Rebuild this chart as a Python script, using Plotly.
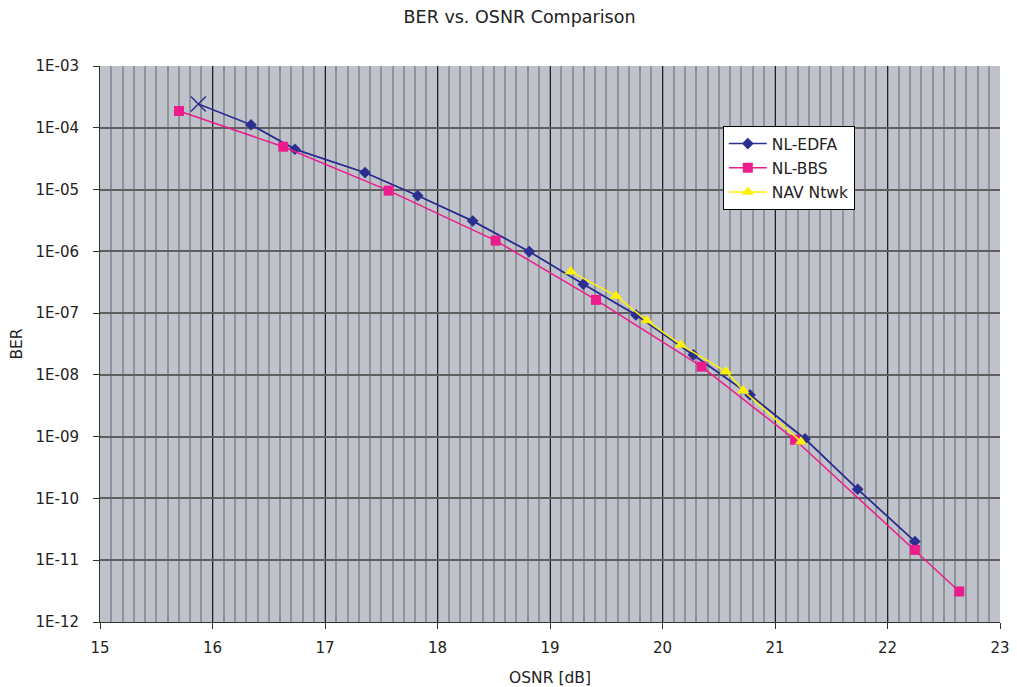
import plotly.graph_objects as go

# ---- data ----
edfa_osnr = [15.874, 16.342, 16.733, 17.356, 17.824, 18.313, 18.816, 19.296,
             19.764, 20.274, 20.778, 21.267, 21.735, 22.244]
edfa_ber = [2.43e-4, 1.12e-4, 4.49e-5, 1.88e-5, 7.96e-6, 3.10e-6, 9.9e-7, 2.94e-7,
            9.35e-8, 2.11e-8, 4.74e-9, 9.2e-10, 1.41e-10, 2.01e-11]

bbs_osnr = [15.702, 16.629, 17.566, 18.517, 19.409, 20.348, 21.178, 22.244, 22.638]
bbs_ber = [1.87e-4, 4.94e-5, 9.6e-6, 1.49e-6, 1.64e-7, 1.36e-8, 8.9e-10, 1.47e-11, 3.12e-12]

nav_osnr = [19.184, 19.587, 19.860, 20.164, 20.564, 20.718, 21.231]
nav_ber = [4.70e-7, 1.90e-7, 7.57e-8, 3.05e-8, 1.13e-8, 5.57e-9, 8.3e-10]

y_tick_vals = [1e-3, 1e-4, 1e-5, 1e-6, 1e-7, 1e-8, 1e-9, 1e-10, 1e-11, 1e-12]
y_tick_text = ["1E-03", "1E-04", "1E-05", "1E-06", "1E-07", "1E-08", "1E-09",
               "1E-10", "1E-11", "1E-12"]
x_tick_vals = [15, 16, 17, 18, 19, 20, 21, 22, 23]

NAVY = "#2B2F8F"
PINK = "#EC1C8C"
YELLOW = "#FFF200"
FONT = "DejaVu Sans"
TXT = "#222222"

fig = go.Figure()

# NL-EDFA line with diamonds (first point is drawn as an X marker)
fig.add_trace(go.Scatter(
    x=edfa_osnr, y=edfa_ber, name="NL-EDFA", mode="lines",
    line=dict(color=NAVY, width=1.5), legendgroup="a", showlegend=False,
))
fig.add_trace(go.Scatter(
    x=edfa_osnr[1:], y=edfa_ber[1:], name="NL-EDFA", mode="lines+markers",
    line=dict(color=NAVY, width=1.5), legendgroup="a",
    marker=dict(symbol="diamond", size=9, color=NAVY),
))
fig.add_trace(go.Scatter(
    x=edfa_osnr[:1], y=edfa_ber[:1], name="NL-EDFA", mode="markers",
    marker=dict(symbol="x-thin-open", size=15, color=NAVY,
                line=dict(color=NAVY, width=1.5)),
    legendgroup="a", showlegend=False,
))
fig.add_trace(go.Scatter(
    x=bbs_osnr, y=bbs_ber, name="NL-BBS", mode="lines+markers",
    line=dict(color=PINK, width=1.5), legendgroup="b",
    marker=dict(symbol="square", size=10, color=PINK),
))
fig.add_trace(go.Scatter(
    x=nav_osnr, y=nav_ber, name="NAV Ntwk", mode="lines+markers",
    line=dict(color=YELLOW, width=1.5), legendgroup="c",
    marker=dict(symbol="triangle-up", size=11, color=YELLOW),
))

fig.update_layout(
    width=1017, height=687,
    margin=dict(l=92, r=25, t=58, b=73),
    paper_bgcolor="white",
    plot_bgcolor="#BFC2CB",
    font=dict(family=FONT, size=15, color=TXT),
    title=dict(text="BER vs. OSNR Comparison", x=0.503, xref="container",
               xanchor="center", y=0.987, yref="container", yanchor="middle",
               font=dict(family=FONT, size=17.5, color=TXT)),
    legend=dict(x=0.692, y=0.892, xanchor="left", yanchor="top",
                bgcolor="white", bordercolor="black", borderwidth=1,
                font=dict(family=FONT, size=15.5, color=TXT),
                itemwidth=38, tracegroupgap=1),
    showlegend=True,
)

fig.update_xaxes(
    range=[15, 23], tickvals=x_tick_vals, ticks="outside", ticklen=6,
    tickcolor="#333333", showline=True, linecolor="#333333", linewidth=1,
    showgrid=True, gridcolor="#222222", gridwidth=1,
    minor=dict(dtick=0.1, showgrid=True, gridcolor="#8E939A", gridwidth=1.5),
    zeroline=False, ticklabelstandoff=6, automargin=False,
    title=dict(text="OSNR [dB]", standoff=16, font=dict(family=FONT, size=15.5)),
)
fig.update_yaxes(
    type="log", range=[-12, -3], tickvals=y_tick_vals, ticktext=y_tick_text,
    ticks="outside", ticklen=6, tickcolor="#333333",
    showline=True, linecolor="#333333", linewidth=1,
    showgrid=True, gridcolor="#5f5f5f", gridwidth=1.5,
    zeroline=False, ticklabelstandoff=11, automargin=False,
    title=dict(text="BER", standoff=12, font=dict(family=FONT, size=15.5)),
)

fig.write_html("out.html")
